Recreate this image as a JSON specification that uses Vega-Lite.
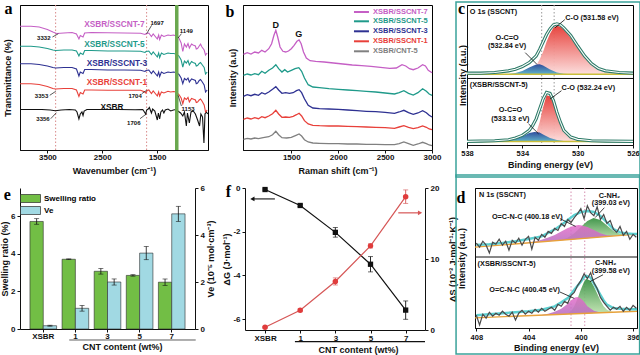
{
"$schema": "https://vega.github.io/schema/vega-lite/v6.json",
"padding": 0,
"background": "white",
"spacing": -6,
"resolve": {"scale": {"color": "independent"}, "legend": {"color": "independent"}},
"config": {
  "font": "Liberation Sans",
  "view": {"stroke": "#000", "strokeWidth": 1},
  "axis": {"grid": false, "labelFont": "Liberation Sans", "labelFontSize": 8, "labelFontWeight": "bold", "labelColor": "#111", "titleFont": "Liberation Sans", "titleFontSize": 9, "titleFontWeight": "bold", "titleColor": "#111", "domainColor": "#111", "tickColor": "#111", "tickSize": 3, "labelPadding": 1, "labelFlush": false, "labelOverlap": false},
  "text": {"font": "Liberation Sans", "fontWeight": "bold"},
  "legend": {"labelFont": "Liberation Sans"}
},
"vconcat": [
{"bounds": "flush", "spacing": 35, "resolve": {"scale": {"color": "independent"}, "legend": {"color": "independent"}}, "hconcat": [
{
  "width": 188, "height": 145,
  "layer": [
    {"data": {"values": [{"x": 3350}, {"x": 1690}]},
     "mark": {"type": "rule", "color": "#d98a8a", "strokeDash": [1.5, 2], "strokeWidth": 1},
     "encoding": {"x": {"field": "x", "type": "quantitative", "scale": {"domain": [4000, 570], "nice": false, "zero": false}, "axis": {"values": [3500, 3000, 2500, 2000, 1500, 1000], "format": "d", "labelOverlap": false, "labelSeparation": -20, "title": "Wavenumber (cm⁻¹)", "labelPadding": 0, "titlePadding": 5}}}},
    {"data": {"values": [
{"s":"XSBR","x":4000,"y":40.5},{"s":"XSBR","x":3800,"y":40.5},{"s":"XSBR","x":3600,"y":40.5},{"s":"XSBR","x":3450,"y":40},{"s":"XSBR","x":3356,"y":39.3},{"s":"XSBR","x":3250,"y":40},{"s":"XSBR","x":3100,"y":40.5},{"s":"XSBR","x":2990,"y":40},{"s":"XSBR","x":2960,"y":38},{"s":"XSBR","x":2925,"y":31},{"s":"XSBR","x":2900,"y":36},{"s":"XSBR","x":2870,"y":38},{"s":"XSBR","x":2850,"y":34.5},{"s":"XSBR","x":2830,"y":39},{"s":"XSBR","x":2780,"y":40.5},{"s":"XSBR","x":2500,"y":40.5},{"s":"XSBR","x":2200,"y":40.5},{"s":"XSBR","x":1900,"y":40.3},{"s":"XSBR","x":1760,"y":40.5},{"s":"XSBR","x":1730,"y":38},{"s":"XSBR","x":1706,"y":36},{"s":"XSBR","x":1690,"y":40},{"s":"XSBR","x":1660,"y":41},{"s":"XSBR","x":1640,"y":42.5},{"s":"XSBR","x":1602,"y":37},{"s":"XSBR","x":1580,"y":41},{"s":"XSBR","x":1540,"y":39},{"s":"XSBR","x":1495,"y":30},{"s":"XSBR","x":1475,"y":37},{"s":"XSBR","x":1452,"y":31},{"s":"XSBR","x":1430,"y":38},{"s":"XSBR","x":1400,"y":40},{"s":"XSBR","x":1375,"y":37},{"s":"XSBR","x":1350,"y":40},{"s":"XSBR","x":1300,"y":41},{"s":"XSBR","x":1250,"y":39},{"s":"XSBR","x":1200,"y":40},{"s":"XSBR","x":1153,"y":40.5},{"s":"XSBR","x":1120,"y":39},{"s":"XSBR","x":1070,"y":37},{"s":"XSBR","x":1030,"y":34},{"s":"XSBR","x":1000,"y":38},{"s":"XSBR","x":965,"y":24},{"s":"XSBR","x":945,"y":37},{"s":"XSBR","x":910,"y":27},{"s":"XSBR","x":880,"y":38},{"s":"XSBR","x":840,"y":39},{"s":"XSBR","x":800,"y":36},{"s":"XSBR","x":760,"y":30},{"s":"XSBR","x":724,"y":24},{"s":"XSBR","x":700,"y":36},{"s":"XSBR","x":670,"y":33},{"s":"XSBR","x":644,"y":7},{"s":"XSBR","x":625,"y":36},{"s":"XSBR","x":600,"y":38},{"s":"XSBR","x":575,"y":36},
{"s":"XSBR/SSCNT-7","x":4000,"y":123.7},{"s":"XSBR/SSCNT-7","x":3800,"y":123.7},{"s":"XSBR/SSCNT-7","x":3650,"y":123},{"s":"XSBR/SSCNT-7","x":3500,"y":120.5},{"s":"XSBR/SSCNT-7","x":3400,"y":118},{"s":"XSBR/SSCNT-7","x":3332,"y":116.5},{"s":"XSBR/SSCNT-7","x":3200,"y":117},{"s":"XSBR/SSCNT-7","x":3050,"y":117.5},{"s":"XSBR/SSCNT-7","x":2970,"y":116},{"s":"XSBR/SSCNT-7","x":2925,"y":111},{"s":"XSBR/SSCNT-7","x":2900,"y":114.5},{"s":"XSBR/SSCNT-7","x":2850,"y":113},{"s":"XSBR/SSCNT-7","x":2820,"y":117},{"s":"XSBR/SSCNT-7","x":2700,"y":117.5},{"s":"XSBR/SSCNT-7","x":2400,"y":117.2},{"s":"XSBR/SSCNT-7","x":2100,"y":117},{"s":"XSBR/SSCNT-7","x":1800,"y":116.7},{"s":"XSBR/SSCNT-7","x":1720,"y":115.5},{"s":"XSBR/SSCNT-7","x":1697,"y":116.5},{"s":"XSBR/SSCNT-7","x":1650,"y":117},{"s":"XSBR/SSCNT-7","x":1602,"y":113.5},{"s":"XSBR/SSCNT-7","x":1570,"y":116},{"s":"XSBR/SSCNT-7","x":1495,"y":111},{"s":"XSBR/SSCNT-7","x":1470,"y":115},{"s":"XSBR/SSCNT-7","x":1452,"y":110.5},{"s":"XSBR/SSCNT-7","x":1420,"y":115},{"s":"XSBR/SSCNT-7","x":1375,"y":113.5},{"s":"XSBR/SSCNT-7","x":1300,"y":115},{"s":"XSBR/SSCNT-7","x":1250,"y":114.5},{"s":"XSBR/SSCNT-7","x":1200,"y":115},{"s":"XSBR/SSCNT-7","x":1149,"y":114},{"s":"XSBR/SSCNT-7","x":1100,"y":112},{"s":"XSBR/SSCNT-7","x":1060,"y":107},{"s":"XSBR/SSCNT-7","x":1030,"y":98.5},{"s":"XSBR/SSCNT-7","x":1000,"y":106},{"s":"XSBR/SSCNT-7","x":965,"y":103},{"s":"XSBR/SSCNT-7","x":935,"y":106.5},{"s":"XSBR/SSCNT-7","x":910,"y":102},{"s":"XSBR/SSCNT-7","x":870,"y":106},{"s":"XSBR/SSCNT-7","x":843,"y":105},{"s":"XSBR/SSCNT-7","x":800,"y":104},{"s":"XSBR/SSCNT-7","x":784,"y":101},{"s":"XSBR/SSCNT-7","x":760,"y":101.5},{"s":"XSBR/SSCNT-7","x":730,"y":104},{"s":"XSBR/SSCNT-7","x":706,"y":106},{"s":"XSBR/SSCNT-7","x":680,"y":103},{"s":"XSBR/SSCNT-7","x":640,"y":100},{"s":"XSBR/SSCNT-7","x":615,"y":95},{"s":"XSBR/SSCNT-7","x":600,"y":96},{"s":"XSBR/SSCNT-7","x":585,"y":97},
{"s":"XSBR/SSCNT-5","x":4000,"y":103.7},{"s":"XSBR/SSCNT-5","x":3800,"y":103.7},{"s":"XSBR/SSCNT-5","x":3650,"y":103},{"s":"XSBR/SSCNT-5","x":3500,"y":101.5},{"s":"XSBR/SSCNT-5","x":3400,"y":100},{"s":"XSBR/SSCNT-5","x":3350,"y":99.5},{"s":"XSBR/SSCNT-5","x":3200,"y":100},{"s":"XSBR/SSCNT-5","x":3050,"y":100},{"s":"XSBR/SSCNT-5","x":2970,"y":99},{"s":"XSBR/SSCNT-5","x":2925,"y":94},{"s":"XSBR/SSCNT-5","x":2900,"y":97},{"s":"XSBR/SSCNT-5","x":2850,"y":95.5},{"s":"XSBR/SSCNT-5","x":2820,"y":99.5},{"s":"XSBR/SSCNT-5","x":2700,"y":99.5},{"s":"XSBR/SSCNT-5","x":2400,"y":99},{"s":"XSBR/SSCNT-5","x":2100,"y":99},{"s":"XSBR/SSCNT-5","x":1800,"y":98.7},{"s":"XSBR/SSCNT-5","x":1720,"y":97.5},{"s":"XSBR/SSCNT-5","x":1700,"y":98.5},{"s":"XSBR/SSCNT-5","x":1650,"y":99},{"s":"XSBR/SSCNT-5","x":1602,"y":95.5},{"s":"XSBR/SSCNT-5","x":1570,"y":98},{"s":"XSBR/SSCNT-5","x":1495,"y":93},{"s":"XSBR/SSCNT-5","x":1470,"y":97},{"s":"XSBR/SSCNT-5","x":1452,"y":92.5},{"s":"XSBR/SSCNT-5","x":1420,"y":97},{"s":"XSBR/SSCNT-5","x":1375,"y":95.5},{"s":"XSBR/SSCNT-5","x":1300,"y":97},{"s":"XSBR/SSCNT-5","x":1250,"y":96.5},{"s":"XSBR/SSCNT-5","x":1200,"y":96.5},{"s":"XSBR/SSCNT-5","x":1150,"y":96},{"s":"XSBR/SSCNT-5","x":1100,"y":94},{"s":"XSBR/SSCNT-5","x":1060,"y":90},{"s":"XSBR/SSCNT-5","x":1030,"y":83},{"s":"XSBR/SSCNT-5","x":1000,"y":89},{"s":"XSBR/SSCNT-5","x":965,"y":87},{"s":"XSBR/SSCNT-5","x":935,"y":89.5},{"s":"XSBR/SSCNT-5","x":910,"y":85},{"s":"XSBR/SSCNT-5","x":870,"y":88.5},{"s":"XSBR/SSCNT-5","x":843,"y":87.5},{"s":"XSBR/SSCNT-5","x":800,"y":86.5},{"s":"XSBR/SSCNT-5","x":784,"y":84},{"s":"XSBR/SSCNT-5","x":760,"y":84.5},{"s":"XSBR/SSCNT-5","x":730,"y":86.5},{"s":"XSBR/SSCNT-5","x":706,"y":87.5},{"s":"XSBR/SSCNT-5","x":680,"y":85.5},{"s":"XSBR/SSCNT-5","x":640,"y":82.5},{"s":"XSBR/SSCNT-5","x":615,"y":76},{"s":"XSBR/SSCNT-5","x":600,"y":77},{"s":"XSBR/SSCNT-5","x":585,"y":78},
{"s":"XSBR/SSCNT-3","x":4000,"y":86.3},{"s":"XSBR/SSCNT-3","x":3800,"y":86.3},{"s":"XSBR/SSCNT-3","x":3650,"y":85.5},{"s":"XSBR/SSCNT-3","x":3500,"y":84},{"s":"XSBR/SSCNT-3","x":3400,"y":82.5},{"s":"XSBR/SSCNT-3","x":3350,"y":82},{"s":"XSBR/SSCNT-3","x":3200,"y":82.5},{"s":"XSBR/SSCNT-3","x":3050,"y":82.5},{"s":"XSBR/SSCNT-3","x":2970,"y":81},{"s":"XSBR/SSCNT-3","x":2925,"y":74},{"s":"XSBR/SSCNT-3","x":2900,"y":78},{"s":"XSBR/SSCNT-3","x":2850,"y":76.5},{"s":"XSBR/SSCNT-3","x":2820,"y":80.5},{"s":"XSBR/SSCNT-3","x":2700,"y":80.5},{"s":"XSBR/SSCNT-3","x":2400,"y":80},{"s":"XSBR/SSCNT-3","x":2100,"y":80},{"s":"XSBR/SSCNT-3","x":1800,"y":79.7},{"s":"XSBR/SSCNT-3","x":1720,"y":78.5},{"s":"XSBR/SSCNT-3","x":1700,"y":79.5},{"s":"XSBR/SSCNT-3","x":1650,"y":80},{"s":"XSBR/SSCNT-3","x":1602,"y":76.5},{"s":"XSBR/SSCNT-3","x":1570,"y":79},{"s":"XSBR/SSCNT-3","x":1495,"y":74},{"s":"XSBR/SSCNT-3","x":1470,"y":78},{"s":"XSBR/SSCNT-3","x":1452,"y":73.5},{"s":"XSBR/SSCNT-3","x":1420,"y":78},{"s":"XSBR/SSCNT-3","x":1375,"y":76.5},{"s":"XSBR/SSCNT-3","x":1300,"y":78},{"s":"XSBR/SSCNT-3","x":1250,"y":77.5},{"s":"XSBR/SSCNT-3","x":1200,"y":78},{"s":"XSBR/SSCNT-3","x":1150,"y":77.5},{"s":"XSBR/SSCNT-3","x":1100,"y":75.5},{"s":"XSBR/SSCNT-3","x":1060,"y":72},{"s":"XSBR/SSCNT-3","x":1030,"y":66.3},{"s":"XSBR/SSCNT-3","x":1000,"y":71.5},{"s":"XSBR/SSCNT-3","x":965,"y":70},{"s":"XSBR/SSCNT-3","x":935,"y":72},{"s":"XSBR/SSCNT-3","x":910,"y":68},{"s":"XSBR/SSCNT-3","x":870,"y":71},{"s":"XSBR/SSCNT-3","x":843,"y":70.5},{"s":"XSBR/SSCNT-3","x":800,"y":69.5},{"s":"XSBR/SSCNT-3","x":784,"y":66.3},{"s":"XSBR/SSCNT-3","x":760,"y":67},{"s":"XSBR/SSCNT-3","x":730,"y":69.5},{"s":"XSBR/SSCNT-3","x":706,"y":70.5},{"s":"XSBR/SSCNT-3","x":680,"y":68.5},{"s":"XSBR/SSCNT-3","x":640,"y":65},{"s":"XSBR/SSCNT-3","x":615,"y":58},{"s":"XSBR/SSCNT-3","x":600,"y":59},{"s":"XSBR/SSCNT-3","x":585,"y":60},
{"s":"XSBR/SSCNT-1","x":4000,"y":66.3},{"s":"XSBR/SSCNT-1","x":3800,"y":66.3},{"s":"XSBR/SSCNT-1","x":3650,"y":65.5},{"s":"XSBR/SSCNT-1","x":3500,"y":63.5},{"s":"XSBR/SSCNT-1","x":3400,"y":61.5},{"s":"XSBR/SSCNT-1","x":3353,"y":61},{"s":"XSBR/SSCNT-1","x":3200,"y":61.5},{"s":"XSBR/SSCNT-1","x":3050,"y":61.5},{"s":"XSBR/SSCNT-1","x":2970,"y":60},{"s":"XSBR/SSCNT-1","x":2925,"y":53.5},{"s":"XSBR/SSCNT-1","x":2900,"y":57.5},{"s":"XSBR/SSCNT-1","x":2850,"y":56},{"s":"XSBR/SSCNT-1","x":2820,"y":60},{"s":"XSBR/SSCNT-1","x":2700,"y":60},{"s":"XSBR/SSCNT-1","x":2400,"y":59.7},{"s":"XSBR/SSCNT-1","x":2100,"y":59.7},{"s":"XSBR/SSCNT-1","x":1800,"y":59.7},{"s":"XSBR/SSCNT-1","x":1720,"y":58},{"s":"XSBR/SSCNT-1","x":1704,"y":57},{"s":"XSBR/SSCNT-1","x":1680,"y":59.5},{"s":"XSBR/SSCNT-1","x":1650,"y":60},{"s":"XSBR/SSCNT-1","x":1602,"y":56.5},{"s":"XSBR/SSCNT-1","x":1570,"y":59},{"s":"XSBR/SSCNT-1","x":1495,"y":54},{"s":"XSBR/SSCNT-1","x":1470,"y":58},{"s":"XSBR/SSCNT-1","x":1452,"y":54},{"s":"XSBR/SSCNT-1","x":1420,"y":58},{"s":"XSBR/SSCNT-1","x":1375,"y":57},{"s":"XSBR/SSCNT-1","x":1300,"y":58.7},{"s":"XSBR/SSCNT-1","x":1250,"y":58},{"s":"XSBR/SSCNT-1","x":1200,"y":58.5},{"s":"XSBR/SSCNT-1","x":1153,"y":58},{"s":"XSBR/SSCNT-1","x":1100,"y":55.5},{"s":"XSBR/SSCNT-1","x":1060,"y":52},{"s":"XSBR/SSCNT-1","x":1030,"y":46.3},{"s":"XSBR/SSCNT-1","x":1000,"y":52},{"s":"XSBR/SSCNT-1","x":965,"y":50.5},{"s":"XSBR/SSCNT-1","x":935,"y":52.5},{"s":"XSBR/SSCNT-1","x":910,"y":48},{"s":"XSBR/SSCNT-1","x":870,"y":51.5},{"s":"XSBR/SSCNT-1","x":843,"y":51},{"s":"XSBR/SSCNT-1","x":800,"y":50},{"s":"XSBR/SSCNT-1","x":784,"y":47.5},{"s":"XSBR/SSCNT-1","x":760,"y":48},{"s":"XSBR/SSCNT-1","x":730,"y":50},{"s":"XSBR/SSCNT-1","x":706,"y":51},{"s":"XSBR/SSCNT-1","x":680,"y":49},{"s":"XSBR/SSCNT-1","x":640,"y":45},{"s":"XSBR/SSCNT-1","x":615,"y":38},{"s":"XSBR/SSCNT-1","x":600,"y":39},{"s":"XSBR/SSCNT-1","x":585,"y":40}
     ]},
     "mark": {"type": "line", "strokeWidth": 1.1},
     "encoding": {"x": {"field": "x", "type": "quantitative"},
       "y": {"field": "y", "type": "quantitative", "scale": {"domain": [0, 145], "nice": false, "zero": false}, "axis": {"labels": false, "ticks": false, "title": "Transmittance (%)", "titlePadding": 8}},
       "color": {"field": "s", "type": "nominal", "scale": {"domain": ["XSBR", "XSBR/SSCNT-1", "XSBR/SSCNT-3", "XSBR/SSCNT-5", "XSBR/SSCNT-7"], "range": ["#111111", "#e8403a", "#2e3192", "#1f9a8a", "#c55fc5"]}, "legend": null}}},
    {"data": {"values": [{}]}, "mark": {"type": "rule", "color": "#6aa84f", "strokeWidth": 3.5}, "encoding": {"x": {"datum": 1140}}},
    {"data": {"values": [
       {"x":3408,"y":113,"x2":3300,"y2":116.3},{"x":3457,"y":54.7,"x2":3348,"y2":58.7},{"x":3439,"y":31.3,"x2":3336,"y2":37.3},
       {"x":1598,"y":124.7,"x2":1690,"y2":116.3},{"x":1055,"y":116.3,"x2":1115,"y2":112},{"x":1779,"y":56.3,"x2":1689,"y2":59.7},{"x":1055,"y":44,"x2":1115,"y2":54.7},{"x":1810,"y":31.3,"x2":1689,"y2":36.3}]},
     "mark": {"type": "rule", "color": "#111", "strokeWidth": 0.7},
     "encoding": {"x": {"field": "x", "type": "quantitative"}, "x2": {"field": "x2"}, "y": {"field": "y", "type": "quantitative"}, "y2": {"field": "y2"}}},
    {"data": {"values": [
       {"label":"XSBR/SSCNT-7","s":"XSBR/SSCNT-7","x":2277,"y":125.3},{"label":"XSBR/SSCNT-5","s":"XSBR/SSCNT-5","x":2277,"y":104.7},{"label":"XSBR/SSCNT-3","s":"XSBR/SSCNT-3","x":2232,"y":86.3},{"label":"XSBR/SSCNT-1","s":"XSBR/SSCNT-1","x":2232,"y":67},{"label":"XSBR","s":"XSBR","x":2322,"y":42}]},
     "mark": {"type": "text", "fontSize": 8.3, "fontWeight": "bold"},
     "encoding": {"x": {"field": "x", "type": "quantitative"}, "y": {"field": "y", "type": "quantitative"}, "text": {"field": "label"},
       "color": {"field": "s", "type": "nominal", "scale": {"domain": ["XSBR", "XSBR/SSCNT-1", "XSBR/SSCNT-3", "XSBR/SSCNT-5", "XSBR/SSCNT-7"], "range": ["#111111", "#e8403a", "#2e3192", "#1f9a8a", "#c55fc5"]}, "legend": null}}},
    {"data": {"values": [
       {"label":"3332","x":3566,"y":112},{"label":"3353","x":3607,"y":53.7},{"label":"3356","x":3580,"y":30.7},{"label":"1697","x":1499,"y":127.3},{"label":"1149","x":965,"y":118.7},{"label":"1704","x":1900,"y":54},{"label":"1153","x":934,"y":40.7},{"label":"1706","x":1924,"y":27.3}]},
     "mark": {"type": "text", "fontSize": 6, "fontWeight": "bold", "color": "#111"},
     "encoding": {"x": {"field": "x", "type": "quantitative"}, "y": {"field": "y", "type": "quantitative"}, "text": {"field": "label"}}},
    {"data": {"values": [{"label": "a", "x": 4210, "y": 136}]},
     "mark": {"type": "text", "font": "Liberation Serif", "fontSize": 16, "fontWeight": "bold", "baseline": "alphabetic", "color": "#000"},
     "encoding": {"x": {"field": "x", "type": "quantitative"}, "y": {"field": "y", "type": "quantitative"}, "text": {"field": "label"}}}
  ]
},
{
  "width": 189, "height": 145,
  "layer": [
    {"data": {"values": [
{"s":"XSBR/SSCNT-7","x":990,"y":95.7},{"s":"XSBR/SSCNT-7","x":1030,"y":97.3},{"s":"XSBR/SSCNT-7","x":1070,"y":96},{"s":"XSBR/SSCNT-7","x":1110,"y":98},{"s":"XSBR/SSCNT-7","x":1150,"y":97},{"s":"XSBR/SSCNT-7","x":1185,"y":99.7},{"s":"XSBR/SSCNT-7","x":1220,"y":98},{"s":"XSBR/SSCNT-7","x":1260,"y":101.3},{"s":"XSBR/SSCNT-7","x":1290,"y":106.3},{"s":"XSBR/SSCNT-7","x":1315,"y":114.7},{"s":"XSBR/SSCNT-7","x":1335,"y":119.7},{"s":"XSBR/SSCNT-7","x":1355,"y":113},{"s":"XSBR/SSCNT-7","x":1380,"y":103},{"s":"XSBR/SSCNT-7","x":1410,"y":98.7},{"s":"XSBR/SSCNT-7","x":1440,"y":98},{"s":"XSBR/SSCNT-7","x":1470,"y":99},{"s":"XSBR/SSCNT-7","x":1500,"y":101.3},{"s":"XSBR/SSCNT-7","x":1530,"y":104.7},{"s":"XSBR/SSCNT-7","x":1560,"y":108.7},{"s":"XSBR/SSCNT-7","x":1583,"y":110},{"s":"XSBR/SSCNT-7","x":1605,"y":106.3},{"s":"XSBR/SSCNT-7","x":1630,"y":98},{"s":"XSBR/SSCNT-7","x":1660,"y":92},{"s":"XSBR/SSCNT-7","x":1700,"y":89.3},{"s":"XSBR/SSCNT-7","x":1760,"y":88.7},{"s":"XSBR/SSCNT-7","x":1850,"y":88},{"s":"XSBR/SSCNT-7","x":1950,"y":87},{"s":"XSBR/SSCNT-7","x":2050,"y":86},{"s":"XSBR/SSCNT-7","x":2150,"y":85},{"s":"XSBR/SSCNT-7","x":2250,"y":84.3},{"s":"XSBR/SSCNT-7","x":2350,"y":83.7},{"s":"XSBR/SSCNT-7","x":2450,"y":82.7},{"s":"XSBR/SSCNT-7","x":2550,"y":81.7},{"s":"XSBR/SSCNT-7","x":2620,"y":82},{"s":"XSBR/SSCNT-7","x":2680,"y":85.3},{"s":"XSBR/SSCNT-7","x":2720,"y":84},{"s":"XSBR/SSCNT-7","x":2760,"y":81.3},{"s":"XSBR/SSCNT-7","x":2800,"y":80.3},{"s":"XSBR/SSCNT-7","x":2850,"y":82},{"s":"XSBR/SSCNT-7","x":2900,"y":85.3},{"s":"XSBR/SSCNT-7","x":2930,"y":84},{"s":"XSBR/SSCNT-7","x":2960,"y":79.7},{"s":"XSBR/SSCNT-7","x":3000,"y":77.3},
{"s":"XSBR/SSCNT-5","x":990,"y":74.7},{"s":"XSBR/SSCNT-5","x":1030,"y":76},{"s":"XSBR/SSCNT-5","x":1070,"y":75},{"s":"XSBR/SSCNT-5","x":1110,"y":76.3},{"s":"XSBR/SSCNT-5","x":1150,"y":75.3},{"s":"XSBR/SSCNT-5","x":1185,"y":78.7},{"s":"XSBR/SSCNT-5","x":1220,"y":76.7},{"s":"XSBR/SSCNT-5","x":1260,"y":79.7},{"s":"XSBR/SSCNT-5","x":1300,"y":82},{"s":"XSBR/SSCNT-5","x":1335,"y":85.3},{"s":"XSBR/SSCNT-5","x":1365,"y":81.3},{"s":"XSBR/SSCNT-5","x":1400,"y":78},{"s":"XSBR/SSCNT-5","x":1430,"y":80.3},{"s":"XSBR/SSCNT-5","x":1460,"y":78},{"s":"XSBR/SSCNT-5","x":1500,"y":79.7},{"s":"XSBR/SSCNT-5","x":1540,"y":81.3},{"s":"XSBR/SSCNT-5","x":1580,"y":82.3},{"s":"XSBR/SSCNT-5","x":1610,"y":78.7},{"s":"XSBR/SSCNT-5","x":1640,"y":72},{"s":"XSBR/SSCNT-5","x":1680,"y":65.3},{"s":"XSBR/SSCNT-5","x":1730,"y":63},{"s":"XSBR/SSCNT-5","x":1800,"y":62.3},{"s":"XSBR/SSCNT-5","x":1900,"y":61.3},{"s":"XSBR/SSCNT-5","x":2000,"y":60.7},{"s":"XSBR/SSCNT-5","x":2100,"y":60},{"s":"XSBR/SSCNT-5","x":2200,"y":59.3},{"s":"XSBR/SSCNT-5","x":2300,"y":58.7},{"s":"XSBR/SSCNT-5","x":2400,"y":58},{"s":"XSBR/SSCNT-5","x":2500,"y":57},{"s":"XSBR/SSCNT-5","x":2600,"y":56},{"s":"XSBR/SSCNT-5","x":2650,"y":57.3},{"s":"XSBR/SSCNT-5","x":2700,"y":59.3},{"s":"XSBR/SSCNT-5","x":2750,"y":56.7},{"s":"XSBR/SSCNT-5","x":2800,"y":55},{"s":"XSBR/SSCNT-5","x":2850,"y":57.3},{"s":"XSBR/SSCNT-5","x":2900,"y":61.3},{"s":"XSBR/SSCNT-5","x":2940,"y":58.7},{"s":"XSBR/SSCNT-5","x":2970,"y":56},{"s":"XSBR/SSCNT-5","x":3000,"y":54.7},
{"s":"XSBR/SSCNT-3","x":990,"y":53.7},{"s":"XSBR/SSCNT-3","x":1030,"y":55.3},{"s":"XSBR/SSCNT-3","x":1070,"y":54.3},{"s":"XSBR/SSCNT-3","x":1110,"y":55.7},{"s":"XSBR/SSCNT-3","x":1150,"y":54.7},{"s":"XSBR/SSCNT-3","x":1185,"y":57.3},{"s":"XSBR/SSCNT-3","x":1220,"y":56},{"s":"XSBR/SSCNT-3","x":1260,"y":58},{"s":"XSBR/SSCNT-3","x":1300,"y":60.7},{"s":"XSBR/SSCNT-3","x":1335,"y":63.3},{"s":"XSBR/SSCNT-3","x":1365,"y":60},{"s":"XSBR/SSCNT-3","x":1400,"y":56.7},{"s":"XSBR/SSCNT-3","x":1440,"y":57.3},{"s":"XSBR/SSCNT-3","x":1480,"y":56.7},{"s":"XSBR/SSCNT-3","x":1520,"y":57.3},{"s":"XSBR/SSCNT-3","x":1555,"y":59.3},{"s":"XSBR/SSCNT-3","x":1583,"y":60.3},{"s":"XSBR/SSCNT-3","x":1610,"y":57.3},{"s":"XSBR/SSCNT-3","x":1640,"y":51.3},{"s":"XSBR/SSCNT-3","x":1680,"y":44.7},{"s":"XSBR/SSCNT-3","x":1730,"y":42},{"s":"XSBR/SSCNT-3","x":1800,"y":41.3},{"s":"XSBR/SSCNT-3","x":1900,"y":41},{"s":"XSBR/SSCNT-3","x":2000,"y":40.7},{"s":"XSBR/SSCNT-3","x":2100,"y":40},{"s":"XSBR/SSCNT-3","x":2200,"y":39.3},{"s":"XSBR/SSCNT-3","x":2300,"y":38.7},{"s":"XSBR/SSCNT-3","x":2400,"y":38.3},{"s":"XSBR/SSCNT-3","x":2500,"y":37.7},{"s":"XSBR/SSCNT-3","x":2600,"y":36.7},{"s":"XSBR/SSCNT-3","x":2650,"y":38},{"s":"XSBR/SSCNT-3","x":2700,"y":39.7},{"s":"XSBR/SSCNT-3","x":2750,"y":37.3},{"s":"XSBR/SSCNT-3","x":2800,"y":35.7},{"s":"XSBR/SSCNT-3","x":2850,"y":37},{"s":"XSBR/SSCNT-3","x":2900,"y":39.3},{"s":"XSBR/SSCNT-3","x":2940,"y":37.3},{"s":"XSBR/SSCNT-3","x":2970,"y":34.7},{"s":"XSBR/SSCNT-3","x":3000,"y":33},
{"s":"XSBR/SSCNT-1","x":990,"y":30.7},{"s":"XSBR/SSCNT-1","x":1030,"y":32},{"s":"XSBR/SSCNT-1","x":1070,"y":31},{"s":"XSBR/SSCNT-1","x":1110,"y":32.3},{"s":"XSBR/SSCNT-1","x":1150,"y":31.3},{"s":"XSBR/SSCNT-1","x":1185,"y":33.3},{"s":"XSBR/SSCNT-1","x":1220,"y":32.3},{"s":"XSBR/SSCNT-1","x":1260,"y":34},{"s":"XSBR/SSCNT-1","x":1300,"y":36.3},{"s":"XSBR/SSCNT-1","x":1335,"y":39.7},{"s":"XSBR/SSCNT-1","x":1365,"y":36},{"s":"XSBR/SSCNT-1","x":1400,"y":32.7},{"s":"XSBR/SSCNT-1","x":1440,"y":33},{"s":"XSBR/SSCNT-1","x":1480,"y":32.7},{"s":"XSBR/SSCNT-1","x":1520,"y":33.7},{"s":"XSBR/SSCNT-1","x":1555,"y":35.3},{"s":"XSBR/SSCNT-1","x":1583,"y":36.7},{"s":"XSBR/SSCNT-1","x":1610,"y":34},{"s":"XSBR/SSCNT-1","x":1640,"y":29.3},{"s":"XSBR/SSCNT-1","x":1680,"y":26},{"s":"XSBR/SSCNT-1","x":1730,"y":24.7},{"s":"XSBR/SSCNT-1","x":1800,"y":24.3},{"s":"XSBR/SSCNT-1","x":1900,"y":24},{"s":"XSBR/SSCNT-1","x":2000,"y":24},{"s":"XSBR/SSCNT-1","x":2100,"y":23.7},{"s":"XSBR/SSCNT-1","x":2200,"y":23.3},{"s":"XSBR/SSCNT-1","x":2300,"y":23},{"s":"XSBR/SSCNT-1","x":2400,"y":22.7},{"s":"XSBR/SSCNT-1","x":2500,"y":22.3},{"s":"XSBR/SSCNT-1","x":2600,"y":21.7},{"s":"XSBR/SSCNT-1","x":2650,"y":23},{"s":"XSBR/SSCNT-1","x":2700,"y":24.3},{"s":"XSBR/SSCNT-1","x":2750,"y":22.7},{"s":"XSBR/SSCNT-1","x":2800,"y":21.3},{"s":"XSBR/SSCNT-1","x":2850,"y":22.3},{"s":"XSBR/SSCNT-1","x":2900,"y":24},{"s":"XSBR/SSCNT-1","x":2940,"y":22.7},{"s":"XSBR/SSCNT-1","x":2970,"y":21},{"s":"XSBR/SSCNT-1","x":3000,"y":20.3},
{"s":"XSBR/CNT-5","x":990,"y":10.7},{"s":"XSBR/CNT-5","x":1030,"y":11.7},{"s":"XSBR/CNT-5","x":1070,"y":11},{"s":"XSBR/CNT-5","x":1110,"y":12},{"s":"XSBR/CNT-5","x":1150,"y":11.3},{"s":"XSBR/CNT-5","x":1200,"y":12.3},{"s":"XSBR/CNT-5","x":1260,"y":13.3},{"s":"XSBR/CNT-5","x":1300,"y":15.3},{"s":"XSBR/CNT-5","x":1335,"y":18.7},{"s":"XSBR/CNT-5","x":1365,"y":15.3},{"s":"XSBR/CNT-5","x":1400,"y":12.3},{"s":"XSBR/CNT-5","x":1450,"y":12},{"s":"XSBR/CNT-5","x":1500,"y":12.7},{"s":"XSBR/CNT-5","x":1550,"y":14.7},{"s":"XSBR/CNT-5","x":1583,"y":16},{"s":"XSBR/CNT-5","x":1610,"y":14},{"s":"XSBR/CNT-5","x":1640,"y":10.3},{"s":"XSBR/CNT-5","x":1680,"y":8},{"s":"XSBR/CNT-5","x":1730,"y":7},{"s":"XSBR/CNT-5","x":1800,"y":6.7},{"s":"XSBR/CNT-5","x":1900,"y":6.3},{"s":"XSBR/CNT-5","x":2000,"y":6.3},{"s":"XSBR/CNT-5","x":2100,"y":6},{"s":"XSBR/CNT-5","x":2200,"y":6},{"s":"XSBR/CNT-5","x":2300,"y":5.7},{"s":"XSBR/CNT-5","x":2400,"y":5.7},{"s":"XSBR/CNT-5","x":2500,"y":5.3},{"s":"XSBR/CNT-5","x":2600,"y":5.3},{"s":"XSBR/CNT-5","x":2650,"y":6.3},{"s":"XSBR/CNT-5","x":2700,"y":8},{"s":"XSBR/CNT-5","x":2750,"y":6.3},{"s":"XSBR/CNT-5","x":2800,"y":4.7},{"s":"XSBR/CNT-5","x":2850,"y":6},{"s":"XSBR/CNT-5","x":2900,"y":7.7},{"s":"XSBR/CNT-5","x":2940,"y":6.3},{"s":"XSBR/CNT-5","x":2970,"y":5},{"s":"XSBR/CNT-5","x":3000,"y":4.3}
     ]},
     "mark": {"type": "line", "strokeWidth": 1.3},
     "encoding": {
       "x": {"field": "x", "type": "quantitative", "scale": {"domain": [985, 3000], "nice": false, "zero": false}, "axis": {"values": [1500, 2000, 2500, 3000], "format": "d", "labelOverlap": false, "title": "Raman shift (cm⁻¹)", "labelPadding": 0, "titlePadding": 5}},
       "y": {"field": "y", "type": "quantitative", "scale": {"domain": [0, 145], "nice": false, "zero": false}, "axis": {"labels": false, "ticks": false, "title": "Intensity (a.u)", "titlePadding": 6}},
       "color": {"field": "s", "type": "nominal", "scale": {"domain": ["XSBR/SSCNT-7", "XSBR/SSCNT-5", "XSBR/SSCNT-3", "XSBR/SSCNT-1", "XSBR/CNT-5"], "range": ["#c55fc5", "#1f9a8a", "#2e3192", "#e8403a", "#808080"]}, "legend": null}}},
    {"data": {"values": [
       {"s":"XSBR/SSCNT-7","x":2168,"x2":2328,"y":138},{"s":"XSBR/SSCNT-5","x":2168,"x2":2328,"y":128.7},{"s":"XSBR/SSCNT-3","x":2168,"x2":2328,"y":118.7},{"s":"XSBR/SSCNT-1","x":2168,"x2":2328,"y":108.7},{"s":"XSBR/CNT-5","x":2168,"x2":2328,"y":98.7}]},
     "layer": [
       {"mark": {"type": "rule", "strokeWidth": 2},
        "encoding": {"x": {"field": "x", "type": "quantitative"}, "x2": {"field": "x2"}, "y": {"field": "y", "type": "quantitative"},
          "color": {"field": "s", "type": "nominal", "scale": {"domain": ["XSBR/SSCNT-7", "XSBR/SSCNT-5", "XSBR/SSCNT-3", "XSBR/SSCNT-1", "XSBR/CNT-5"], "range": ["#c55fc5", "#1f9a8a", "#2e3192", "#e8403a", "#808080"]}, "legend": null}}},
       {"mark": {"type": "text", "fontSize": 7.5, "fontWeight": "bold", "align": "left", "dx": 4},
        "encoding": {"x": {"field": "x2", "type": "quantitative"}, "y": {"field": "y", "type": "quantitative"}, "text": {"field": "s"},
          "color": {"field": "s", "type": "nominal", "scale": {"domain": ["XSBR/SSCNT-7", "XSBR/SSCNT-5", "XSBR/SSCNT-3", "XSBR/SSCNT-1", "XSBR/CNT-5"], "range": ["#c55fc5", "#1f9a8a", "#2e3192", "#e8403a", "#808080"]}, "legend": null}}}
     ]},
    {"data": {"values": [{"label": "D", "x": 1334, "y": 124.7}, {"label": "G", "x": 1580, "y": 115.7}]},
     "mark": {"type": "text", "fontSize": 9, "fontWeight": "bold", "color": "#111"},
     "encoding": {"x": {"field": "x", "type": "quantitative"}, "y": {"field": "y", "type": "quantitative"}, "text": {"field": "label"}}},
    {"data": {"values": [{"label": "b", "x": 846, "y": 133}]},
     "mark": {"type": "text", "font": "Liberation Serif", "fontSize": 16, "fontWeight": "bold", "baseline": "alphabetic", "color": "#000"},
     "encoding": {"x": {"field": "x", "type": "quantitative"}, "y": {"field": "y", "type": "quantitative"}, "text": {"field": "label"}}}
  ]
},
{
  "width": 166, "height": 140,
  "layer": [
    {"data": {"values": [{"x": 532.6}, {"x": 531.7}]},
     "mark": {"type": "rule", "color": "#999", "strokeDash": [1.5, 2], "strokeWidth": 1},
     "encoding": {"x": {"field": "x", "type": "quantitative", "scale": {"domain": [538, 526], "nice": false, "zero": false}, "axis": {"values": [538, 536, 534, 532, 530, 528, 526], "labelOverlap": false, "labelSeparation": -20, "title": "Binding energy (eV)", "labelFontSize": 7.5, "labelPadding": 1, "titlePadding": 4}}}},
    {"data": {"values": [
{"p":"u","x":538,"y":71.3,"b":71.3},{"p":"u","x":535,"y":71.3,"b":71.3},{"p":"u","x":534,"y":72,"b":71.3},{"p":"u","x":533.5,"y":74,"b":71.3},{"p":"u","x":533,"y":80,"b":71.3},{"p":"u","x":532.75,"y":86,"b":71.3},{"p":"u","x":532.5,"y":94,"b":71.3},{"p":"u","x":532.25,"y":104,"b":71.3},{"p":"u","x":532,"y":112,"b":71.3},{"p":"u","x":531.75,"y":118,"b":71.3},{"p":"u","x":531.5,"y":120,"b":71.3},{"p":"u","x":531.25,"y":119,"b":71.3},{"p":"u","x":531,"y":116,"b":71.3},{"p":"u","x":530.5,"y":108,"b":71.3},{"p":"u","x":530,"y":98,"b":71.3},{"p":"u","x":529.5,"y":88.5,"b":71.3},{"p":"u","x":529,"y":81,"b":71.3},{"p":"u","x":528.5,"y":76,"b":71.3},{"p":"u","x":528,"y":73.5,"b":71.3},{"p":"u","x":527,"y":72,"b":71.3},{"p":"u","x":526,"y":71.3,"b":71.3},
{"p":"l","x":538,"y":3.5,"b":3.5},{"p":"l","x":534,"y":4.5,"b":3.5},{"p":"l","x":533.5,"y":6,"b":3.5},{"p":"l","x":533,"y":12,"b":3.5},{"p":"l","x":532.75,"y":23,"b":3.5},{"p":"l","x":532.5,"y":38,"b":3.5},{"p":"l","x":532.25,"y":50,"b":3.5},{"p":"l","x":532,"y":49,"b":3.5},{"p":"l","x":531.75,"y":42,"b":3.5},{"p":"l","x":531.5,"y":31.5,"b":3.5},{"p":"l","x":531.25,"y":21,"b":3.5},{"p":"l","x":531,"y":13,"b":3.5},{"p":"l","x":530.5,"y":6.5,"b":3.5},{"p":"l","x":530,"y":4.5,"b":3.5},{"p":"l","x":529,"y":3.7,"b":3.5},{"p":"l","x":526,"y":3.5,"b":3.5}
     ]},
     "mark": {"type": "area", "opacity": 0.95, "color": {"gradient": "linear", "x1": 0, "y1": 0, "x2": 0, "y2": 1, "stops": [{"offset": 0, "color": "#e63b35"}, {"offset": 1, "color": "#fcdcdb"}]}},
     "encoding": {"x": {"field": "x", "type": "quantitative"}, "y": {"field": "y", "type": "quantitative", "scale": {"domain": [0, 141], "nice": false, "zero": false}, "axis": {"labels": false, "ticks": false, "title": "Intensity (a.u.)", "titlePadding": 0}}, "y2": {"field": "b"}, "detail": {"field": "p"}}},
    {"data": {"values": [
{"p":"u","x":536,"y":71.3,"b":71.3},{"p":"u","x":535,"y":71.5,"b":71.3},{"p":"u","x":534.5,"y":72.5,"b":71.3},{"p":"u","x":534,"y":74.5,"b":71.3},{"p":"u","x":533.5,"y":78,"b":71.3},{"p":"u","x":533,"y":81,"b":71.3},{"p":"u","x":532.75,"y":81.3,"b":71.3},{"p":"u","x":532.5,"y":80,"b":71.3},{"p":"u","x":532,"y":76,"b":71.3},{"p":"u","x":531.5,"y":73,"b":71.3},{"p":"u","x":531,"y":71.8,"b":71.3},{"p":"u","x":530.5,"y":71.3,"b":71.3},
{"p":"l","x":536,"y":3.5,"b":3.5},{"p":"l","x":535,"y":4.5,"b":3.5},{"p":"l","x":534.5,"y":6,"b":3.5},{"p":"l","x":534,"y":8.5,"b":3.5},{"p":"l","x":533.5,"y":12,"b":3.5},{"p":"l","x":533.13,"y":13,"b":3.5},{"p":"l","x":532.75,"y":12.5,"b":3.5},{"p":"l","x":532.5,"y":10.5,"b":3.5},{"p":"l","x":532,"y":7,"b":3.5},{"p":"l","x":531.5,"y":5,"b":3.5},{"p":"l","x":531,"y":4,"b":3.5},{"p":"l","x":530,"y":3.5,"b":3.5}
     ]},
     "mark": {"type": "area", "opacity": 0.95, "color": {"gradient": "linear", "x1": 0, "y1": 0, "x2": 0, "y2": 1, "stops": [{"offset": 0, "color": "#26479a"}, {"offset": 1, "color": "#58b0c8"}]}},
     "encoding": {"x": {"field": "x", "type": "quantitative"}, "y": {"field": "y", "type": "quantitative"}, "y2": {"field": "b"}, "detail": {"field": "p"}}},
    {"data": {"values": [{"y": 71.3}, {"y": 3.5}]},
     "mark": {"type": "rule", "color": "#c9be3a", "strokeWidth": 1.4},
     "encoding": {"y": {"field": "y", "type": "quantitative"}}},
    {"data": {"values": [
{"p":"u","x":538,"y":72.3},{"p":"u","x":537,"y":72.3},{"p":"u","x":536,"y":73},{"p":"u","x":535,"y":74.7},{"p":"u","x":534.5,"y":76.3},{"p":"u","x":534,"y":79},{"p":"u","x":533.5,"y":83},{"p":"u","x":533,"y":89.7},{"p":"u","x":532.75,"y":96.3},{"p":"u","x":532.5,"y":103.7},{"p":"u","x":532.25,"y":111.3},{"p":"u","x":532,"y":117},{"p":"u","x":531.75,"y":121},{"p":"u","x":531.5,"y":122},{"p":"u","x":531.25,"y":121},{"p":"u","x":531,"y":118},{"p":"u","x":530.5,"y":110.3},{"p":"u","x":530,"y":99.7},{"p":"u","x":529.5,"y":89.7},{"p":"u","x":529,"y":82},{"p":"u","x":528.5,"y":77},{"p":"u","x":528,"y":74.7},{"p":"u","x":527,"y":73},{"p":"u","x":526,"y":72.3},
{"p":"l","x":538,"y":3.7},{"p":"l","x":537,"y":4},{"p":"l","x":536,"y":4.3},{"p":"l","x":535,"y":5.3},{"p":"l","x":534.5,"y":7},{"p":"l","x":534,"y":9.7},{"p":"l","x":533.5,"y":14.7},{"p":"l","x":533.25,"y":19.7},{"p":"l","x":533,"y":26.3},{"p":"l","x":532.75,"y":36.3},{"p":"l","x":532.5,"y":46.3},{"p":"l","x":532.25,"y":53},{"p":"l","x":532,"y":52},{"p":"l","x":531.75,"y":44.7},{"p":"l","x":531.5,"y":33},{"p":"l","x":531.25,"y":23},{"p":"l","x":531,"y":14.7},{"p":"l","x":530.5,"y":8},{"p":"l","x":530,"y":5.7},{"p":"l","x":529,"y":4.3},{"p":"l","x":528,"y":4},{"p":"l","x":526,"y":3.7}
     ]},
     "layer": [
       {"mark": {"type": "line", "color": "#2c7a67", "strokeWidth": 3.2}, "encoding": {"x": {"field": "x", "type": "quantitative"}, "y": {"field": "y", "type": "quantitative"}, "detail": {"field": "p"}}},
       {"mark": {"type": "line", "color": "#ffffff", "strokeWidth": 1.1}, "encoding": {"x": {"field": "x", "type": "quantitative"}, "y": {"field": "y", "type": "quantitative"}, "detail": {"field": "p"}}}
     ]},
    {"data": {"values": [{}]}, "mark": {"type": "rule", "color": "#111", "strokeWidth": 1}, "encoding": {"y": {"datum": 67}}},
    {"data": {"values": [
       {"x":530.93,"y":126.3,"x2":531.64,"y2":118},{"x":533.79,"y":93,"x2":532.95,"y2":81.3},{"x":531.17,"y":54.7,"x2":532.0,"y2":46.3},{"x":533.55,"y":21.3,"x2":532.83,"y2":11.3}]},
     "mark": {"type": "rule", "color": "#111", "strokeWidth": 0.8},
     "encoding": {"x": {"field": "x", "type": "quantitative"}, "x2": {"field": "x2"}, "y": {"field": "y", "type": "quantitative"}, "y2": {"field": "y2"}}},
    {"data": {"values": [
       {"label":"O 1s (SSCNT)","x":537.8,"y":133.7},{"label":"C-O (531.58 eV)","x":530.9,"y":128},{"label":"(XSBR/SSCNT-5)","x":537.8,"y":60.7},{"label":"C-O (532.24 eV)","x":531.16,"y":57}]},
     "mark": {"type": "text", "fontSize": 7.3, "fontWeight": "bold", "align": "left", "color": "#111"},
     "encoding": {"x": {"field": "x", "type": "quantitative"}, "y": {"field": "y", "type": "quantitative"}, "text": {"field": "label"}}},
    {"data": {"values": [
       {"label":"O-C=O","x":535.1,"y":108},{"label":"(532.84 eV)","x":535.1,"y":99.7},{"label":"O-C=O","x":534.86,"y":35.3},{"label":"(533.13 eV)","x":534.86,"y":26.3}]},
     "mark": {"type": "text", "fontSize": 7.3, "fontWeight": "bold", "align": "center", "color": "#111"},
     "encoding": {"x": {"field": "x", "type": "quantitative"}, "y": {"field": "y", "type": "quantitative"}, "text": {"field": "label"}}},
    {"data": {"values": [{}]},
     "mark": {"type": "rect", "filled": false, "color": "#3aa29a", "strokeWidth": 1.5},
     "encoding": {"x": {"datum": 538.795}, "x2": {"datum": 525.494}, "y": {"datum": 144}, "y2": {"datum": -32.2}}},
    {"data": {"values": [{"label": "c", "x": 538.39, "y": 132.2}]},
     "mark": {"type": "text", "font": "Liberation Serif", "fontSize": 16, "fontWeight": "bold", "baseline": "alphabetic", "color": "#000"},
     "encoding": {"x": {"field": "x", "type": "quantitative"}, "y": {"field": "y", "type": "quantitative"}, "text": {"field": "label"}}}
  ]
}
]},
{"bounds": "flush", "spacing": 50, "resolve": {"scale": {"color": "independent"}, "legend": {"color": "independent"}}, "hconcat": [
{
  "width": 175, "height": 141,
  "view": {"stroke": null},
  "encoding": {"x": {"field": "cnt", "type": "nominal", "sort": ["XSBR", "1", "3", "5", "7"], "scale": {"paddingInner": 0.17, "paddingOuter": 0.31}, "axis": {"labelAngle": 0, "title": "CNT content (wt%)", "titleX": 102, "labelPadding": 0, "titlePadding": 2}}},
  "layer": [
    {"data": {"values": [
       {"cnt":"XSBR","series":"Swelling ratio","value":5.72,"lo":5.57,"hi":5.87},{"cnt":"1","series":"Swelling ratio","value":3.71,"lo":3.69,"hi":3.73},{"cnt":"3","series":"Swelling ratio","value":3.07,"lo":2.92,"hi":3.22},{"cnt":"5","series":"Swelling ratio","value":2.85,"lo":2.81,"hi":2.89},{"cnt":"7","series":"Swelling ratio","value":2.49,"lo":2.32,"hi":2.66}]},
     "layer": [
       {"mark": {"type": "bar", "stroke": "#2b2b2b", "strokeWidth": 0.6},
        "encoding": {"xOffset": {"field": "series", "type": "nominal", "scale": {"domain": ["Swelling ratio", "Ve"]}},
          "y": {"field": "value", "type": "quantitative", "scale": {"domain": [0, 7.5], "nice": false}, "axis": {"title": "Swelling ratio (%)", "values": [0, 2, 4, 6], "labelPadding": 2, "titlePadding": 1}},
          "color": {"field": "series", "type": "nominal", "scale": {"domain": ["Swelling ratio", "Ve"], "range": ["#72be45", "#a1d9e3"]},
            "legend": {"title": null, "orient": "top-left", "offset": 5, "padding": 0, "symbolType": "M-2,-0.8H2V0.8H-2Z", "symbolSize": 100, "symbolStrokeColor": "#222", "symbolStrokeWidth": 0.7, "labelFontSize": 8, "labelFontWeight": "bold", "labelOffset": 8, "rowPadding": 1}}}},
       {"mark": {"type": "rule", "color": "#111", "strokeWidth": 0.8}, "encoding": {"xOffset": {"field": "series", "type": "nominal", "scale": {"domain": ["Swelling ratio", "Ve"]}}, "y": {"field": "lo", "type": "quantitative"}, "y2": {"field": "hi"}}},
       {"mark": {"type": "tick", "orient": "horizontal", "size": 5, "thickness": 0.8, "color": "#111"}, "encoding": {"xOffset": {"field": "series", "type": "nominal", "scale": {"domain": ["Swelling ratio", "Ve"]}}, "y": {"field": "lo", "type": "quantitative"}}},
       {"mark": {"type": "tick", "orient": "horizontal", "size": 5, "thickness": 0.8, "color": "#111"}, "encoding": {"xOffset": {"field": "series", "type": "nominal", "scale": {"domain": ["Swelling ratio", "Ve"]}}, "y": {"field": "hi", "type": "quantitative"}}},
       {"data": {"values": [{}]}, "mark": {"type": "rule", "color": "#333", "strokeWidth": 0.8}, "encoding": {"x": {"datum": "1", "bandPosition": 0.27}, "x2": {"datum": "7", "bandPosition": 1.4}, "y": {"datum": -0.585}}},
       {"data": {"values": [{"label": "e", "cnt": "XSBR", "value": 6.86}]}, "mark": {"type": "text", "font": "Liberation Serif", "fontSize": 16, "fontWeight": "bold", "baseline": "alphabetic", "color": "#000", "dx": -36}, "encoding": {"y": {"field": "value", "type": "quantitative"}, "text": {"field": "label"}}}
     ]},
    {"data": {"values": [
       {"cnt":"XSBR","series":"Ve","value":0.14,"lo":0.12,"hi":0.16},{"cnt":"1","series":"Ve","value":0.88,"lo":0.76,"hi":1.0},{"cnt":"3","series":"Ve","value":2.0,"lo":1.87,"hi":2.13},{"cnt":"5","series":"Ve","value":3.23,"lo":2.95,"hi":3.51},{"cnt":"7","series":"Ve","value":4.9,"lo":4.58,"hi":5.22}]},
     "layer": [
       {"mark": {"type": "bar", "stroke": "#2b2b2b", "strokeWidth": 0.6},
        "encoding": {"xOffset": {"field": "series", "type": "nominal", "scale": {"domain": ["Swelling ratio", "Ve"]}},
          "y": {"field": "value", "type": "quantitative", "scale": {"domain": [0, 6], "nice": false}, "axis": {"orient": "right", "title": "Ve (10⁻⁵ mol·cm⁻³)", "titleAngle": 270, "titleBaseline": "top", "values": [0, 2, 4, 6], "labelPadding": 2, "titlePadding": 2}},
          "color": {"field": "series", "type": "nominal", "scale": {"domain": ["Swelling ratio", "Ve"], "range": ["#72be45", "#a1d9e3"]}}}},
       {"mark": {"type": "rule", "color": "#111", "strokeWidth": 0.8}, "encoding": {"xOffset": {"field": "series", "type": "nominal", "scale": {"domain": ["Swelling ratio", "Ve"]}}, "y": {"field": "lo", "type": "quantitative"}, "y2": {"field": "hi"}}},
       {"mark": {"type": "tick", "orient": "horizontal", "size": 5, "thickness": 0.8, "color": "#111"}, "encoding": {"xOffset": {"field": "series", "type": "nominal", "scale": {"domain": ["Swelling ratio", "Ve"]}}, "y": {"field": "lo", "type": "quantitative"}}},
       {"mark": {"type": "tick", "orient": "horizontal", "size": 5, "thickness": 0.8, "color": "#111"}, "encoding": {"xOffset": {"field": "series", "type": "nominal", "scale": {"domain": ["Swelling ratio", "Ve"]}}, "y": {"field": "hi", "type": "quantitative"}}}
     ]}
  ],
  "resolve": {"scale": {"y": "independent"}}
},
{
  "width": 180, "height": 142,
  "view": {"stroke": null},
  "encoding": {"x": {"field": "pos", "type": "quantitative", "scale": {"domain": [-0.57, 4.55], "nice": false, "zero": false}, "axis": {"values": [0, 1, 2, 3, 4], "labelExpr": "['XSBR','1','3','5','7'][datum.value]", "title": "CNT content (wt%)", "titleX": 113, "labelPadding": 1, "titlePadding": 3}}},
  "layer": [
    {"data": {"values": [
      {"cnt":"XSBR","pos":0,"g":-0.07,"gl":-0.1,"gh":-0.04},
      {"cnt":"1","pos":1,"g":-0.8,"gl":-0.85,"gh":-0.75},
      {"cnt":"3","pos":2,"g":-2.03,"gl":-2.25,"gh":-1.81},
      {"cnt":"5","pos":3,"g":-3.49,"gl":-3.84,"gh":-3.14},
      {"cnt":"7","pos":4,"g":-5.59,"gl":-6.01,"gh":-5.17}]},
     "layer": [
      {"mark": {"type": "line", "color": "#111", "strokeWidth": 1.2}, "encoding": {"y": {"field": "g", "type": "quantitative", "scale": {"domain": [-6.5, 0], "nice": false, "zero": false}, "axis": {"title": "ΔG (J·mol⁻¹)", "values": [0, -1, -2, -3, -4, -5, -6], "labelExpr": "datum.value == 0 ? '0' : '-' + abs(datum.value)", "labelPadding": 2, "titlePadding": 1}}}},
      {"mark": {"type": "rule", "color": "#111", "strokeWidth": 0.9}, "encoding": {"y": {"field": "gl", "type": "quantitative"}, "y2": {"field": "gh"}}},
      {"mark": {"type": "tick", "orient": "horizontal", "size": 5, "thickness": 0.9, "color": "#111"}, "encoding": {"y": {"field": "gl", "type": "quantitative"}}},
      {"mark": {"type": "tick", "orient": "horizontal", "size": 5, "thickness": 0.9, "color": "#111"}, "encoding": {"y": {"field": "gh", "type": "quantitative"}}},
      {"mark": {"type": "point", "shape": "square", "filled": true, "size": 28, "color": "#111", "opacity": 1}, "encoding": {"y": {"field": "g", "type": "quantitative"}}},
      {"data": {"values": [{"pos": -0.34, "pos2": 0.28, "g": -0.5, "c": "k"}, {"pos": 0.85, "pos2": 4.55, "g": -7.03, "c": "u"}]}, "mark": {"type": "rule", "color": "#111", "strokeWidth": 1.1}, "encoding": {"x2": {"field": "pos2"}, "y": {"field": "g", "type": "quantitative"}}},
      {"data": {"values": [{"pos": -0.36, "g": -0.5}]}, "mark": {"type": "point", "shape": "triangle-left", "filled": true, "size": 24, "color": "#111", "opacity": 1}, "encoding": {"y": {"field": "g", "type": "quantitative"}}},
      {"data": {"values": [{"label": "f", "pos": -1.04, "g": -0.41}]}, "mark": {"type": "text", "font": "Liberation Serif", "fontSize": 16, "fontWeight": "bold", "baseline": "alphabetic", "color": "#000"}, "encoding": {"y": {"field": "g", "type": "quantitative"}, "text": {"field": "label"}}}
    ]},
    {"data": {"values": [
      {"cnt":"XSBR","pos":0,"s":0.38,"sl":0.28,"sh":0.48},
      {"cnt":"1","pos":1,"s":2.77,"sl":2.57,"sh":2.97},
      {"cnt":"3","pos":2,"s":6.84,"sl":6.34,"sh":7.34},
      {"cnt":"5","pos":3,"s":11.85,"sl":11.55,"sh":12.15},
      {"cnt":"7","pos":4,"s":18.78,"sl":17.83,"sh":19.73}]},
     "layer": [
      {"mark": {"type": "line", "color": "#d65656", "strokeWidth": 1.2}, "encoding": {"y": {"field": "s", "type": "quantitative", "scale": {"domain": [0, 20], "nice": false}, "axis": {"orient": "right", "title": "ΔS (10⁻³ J·mol⁻¹·K⁻¹)", "titleAngle": 270, "titleBaseline": "top", "values": [0, 5, 10, 15, 20], "labelPadding": 2, "titlePadding": 10}}}},
      {"mark": {"type": "rule", "color": "#d65656", "strokeWidth": 0.9}, "encoding": {"y": {"field": "sl", "type": "quantitative"}, "y2": {"field": "sh"}}},
      {"mark": {"type": "tick", "orient": "horizontal", "size": 5, "thickness": 0.9, "color": "#d65656"}, "encoding": {"y": {"field": "sl", "type": "quantitative"}}},
      {"mark": {"type": "tick", "orient": "horizontal", "size": 5, "thickness": 0.9, "color": "#d65656"}, "encoding": {"y": {"field": "sh", "type": "quantitative"}}},
      {"mark": {"type": "point", "shape": "circle", "filled": true, "size": 30, "color": "#e03c3c", "opacity": 1}, "encoding": {"y": {"field": "s", "type": "quantitative"}}},
      {"data": {"values": [{"pos": 3.79, "pos2": 4.39, "s": 16.5}]}, "mark": {"type": "rule", "color": "#d65656", "strokeWidth": 1.2}, "encoding": {"x2": {"field": "pos2"}, "y": {"field": "s", "type": "quantitative"}}},
      {"data": {"values": [{"pos": 4.41, "s": 16.5}]}, "mark": {"type": "point", "shape": "triangle-right", "filled": true, "size": 24, "color": "#d65656", "opacity": 1}, "encoding": {"y": {"field": "s", "type": "quantitative"}}}
    ]}
  ],
  "resolve": {"scale": {"y": "independent"}}
},
{
  "width": 162, "height": 140,
  "layer": [
    {"data": {"values": [{"x": 400.75}, {"x": 399.7}]},
     "mark": {"type": "rule", "color": "#d68fb0", "strokeDash": [1.5, 2], "strokeWidth": 1},
     "encoding": {"x": {"field": "x", "type": "quantitative", "scale": {"domain": [408.1, 395.7], "nice": false, "zero": false}, "axis": {"values": [408, 406, 404, 402, 400, 398, 396], "labelOverlap": false, "labelSeparation": -20, "title": "Binding energy (eV)", "labelFontSize": 7.5, "labelPadding": 2, "titlePadding": 3}}}},
    {"data": {"values": [
{"p":"u","x":402,"y":88.4,"b":88.4},{"p":"u","x":401.5,"y":89.2,"b":89.0},{"p":"u","x":401,"y":91.5,"b":89.5},{"p":"u","x":400.5,"y":96,"b":90.0},{"p":"u","x":400,"y":102.5,"b":90.6},{"p":"u","x":399.5,"y":108.5,"b":91.1},{"p":"u","x":399.03,"y":111.5,"b":91.6},{"p":"u","x":398.5,"y":109.5,"b":92.2},{"p":"u","x":398,"y":104,"b":92.7},{"p":"u","x":397.5,"y":98.5,"b":93.2},{"p":"u","x":397,"y":95.5,"b":93.8},{"p":"u","x":396.5,"y":94.6,"b":94.3},{"p":"u","x":396,"y":94.8,"b":94.8},
{"p":"l","x":401.5,"y":13.8,"b":13.8},{"p":"l","x":401,"y":14.5,"b":14.1},{"p":"l","x":400.75,"y":17,"b":14.2},{"p":"l","x":400.5,"y":22,"b":14.4},{"p":"l","x":400.25,"y":30,"b":14.5},{"p":"l","x":400,"y":39,"b":14.6},{"p":"l","x":399.75,"y":47,"b":14.8},{"p":"l","x":399.58,"y":50,"b":14.8},{"p":"l","x":399.25,"y":48,"b":15.0},{"p":"l","x":399,"y":42,"b":15.2},{"p":"l","x":398.75,"y":35,"b":15.3},{"p":"l","x":398.5,"y":28,"b":15.4},{"p":"l","x":398.25,"y":22,"b":15.6},{"p":"l","x":398,"y":18.5,"b":15.7},{"p":"l","x":397.75,"y":17,"b":15.8},{"p":"l","x":397.5,"y":16.3,"b":16.0},{"p":"l","x":397,"y":16.2,"b":16.2}
     ]},
     "mark": {"type": "area", "opacity": 0.9, "color": {"gradient": "linear", "x1": 0, "y1": 0, "x2": 0, "y2": 1, "stops": [{"offset": 0, "color": "#2e8b3a"}, {"offset": 1, "color": "#bfe3ad"}]}},
     "encoding": {"x": {"field": "x", "type": "quantitative"}, "y": {"field": "y", "type": "quantitative", "scale": {"domain": [0, 142], "nice": false, "zero": false}, "axis": {"labels": false, "ticks": false, "title": "Intensity (a.u.)", "titlePadding": 9}}, "y2": {"field": "b"}, "detail": {"field": "p"}}},
    {"data": {"values": [
{"p":"u","x":404.5,"y":85.8,"b":85.7},{"p":"u","x":404,"y":86.6,"b":86.3},{"p":"u","x":403.5,"y":87.8,"b":86.8},{"p":"u","x":403,"y":89.5,"b":87.4},{"p":"u","x":402.5,"y":91.9,"b":87.9},{"p":"u","x":402,"y":94.4,"b":88.4},{"p":"u","x":401.5,"y":98,"b":89.0},{"p":"u","x":401,"y":101.5,"b":89.5},{"p":"u","x":400.5,"y":103.8,"b":90.0},{"p":"u","x":400.18,"y":104.5,"b":90.4},{"p":"u","x":400,"y":104.2,"b":90.6},{"p":"u","x":399.5,"y":102.5,"b":91.1},{"p":"u","x":399,"y":99.3,"b":91.6},{"p":"u","x":398.5,"y":96,"b":92.2},{"p":"u","x":398,"y":94,"b":92.7},{"p":"u","x":397.5,"y":93.5,"b":93.2},{"p":"u","x":397,"y":93.8,"b":93.8},
{"p":"l","x":403.5,"y":12.8,"b":12.7},{"p":"l","x":403,"y":13.3,"b":13.0},{"p":"l","x":402.5,"y":14.5,"b":13.3},{"p":"l","x":402,"y":16.5,"b":13.5},{"p":"l","x":401.5,"y":19.5,"b":13.8},{"p":"l","x":401,"y":24.5,"b":14.1},{"p":"l","x":400.75,"y":28,"b":14.2},{"p":"l","x":400.45,"y":31,"b":14.4},{"p":"l","x":400.25,"y":31.5,"b":14.5},{"p":"l","x":400,"y":30,"b":14.6},{"p":"l","x":399.75,"y":26.5,"b":14.8},{"p":"l","x":399.5,"y":22,"b":14.9},{"p":"l","x":399,"y":17.5,"b":15.2},{"p":"l","x":398.5,"y":15.8,"b":15.4},{"p":"l","x":398,"y":15.7,"b":15.7}
     ]},
     "mark": {"type": "area", "opacity": 0.85, "color": {"gradient": "linear", "x1": 0, "y1": 0, "x2": 0, "y2": 1, "stops": [{"offset": 0, "color": "#e56cc9"}, {"offset": 1, "color": "#b36bbf"}]}},
     "encoding": {"x": {"field": "x", "type": "quantitative"}, "y": {"field": "y", "type": "quantitative"}, "y2": {"field": "b"}, "detail": {"field": "p"}}},
    {"data": {"values": [{"x": 408.1, "x2": 395.7, "y": 82, "y2": 95.3}, {"x": 408.1, "x2": 395.7, "y": 10.3, "y2": 17}]},
     "mark": {"type": "rule", "color": "#e8a13a", "strokeWidth": 1.3},
     "encoding": {"x": {"field": "x", "type": "quantitative"}, "x2": {"field": "x2"}, "y": {"field": "y", "type": "quantitative"}, "y2": {"field": "y2"}}},
    {"data": {"values": [
{"p":"u","x":408,"y":84.3},{"p":"u","x":407,"y":85},{"p":"u","x":406,"y":86.3},{"p":"u","x":405,"y":88},{"p":"u","x":404,"y":90.3},{"p":"u","x":403,"y":93},{"p":"u","x":402.5,"y":96.5},{"p":"u","x":402,"y":100},{"p":"u","x":401.5,"y":104.5},{"p":"u","x":401,"y":109.5},{"p":"u","x":400.5,"y":114.5},{"p":"u","x":400,"y":117.5},{"p":"u","x":399.5,"y":118.7},{"p":"u","x":399,"y":117.7},{"p":"u","x":398.5,"y":113.7},{"p":"u","x":398,"y":107},{"p":"u","x":397.5,"y":100.3},{"p":"u","x":397,"y":97},{"p":"u","x":396.5,"y":96},{"p":"u","x":396,"y":95.5},{"p":"u","x":395.7,"y":95.3},
{"p":"l","x":408,"y":13},{"p":"l","x":407,"y":14},{"p":"l","x":406,"y":15},{"p":"l","x":405,"y":16},{"p":"l","x":404,"y":17},{"p":"l","x":403,"y":18.5},{"p":"l","x":402,"y":22},{"p":"l","x":401.5,"y":26},{"p":"l","x":401,"y":30.3},{"p":"l","x":400.5,"y":38.7},{"p":"l","x":400,"y":47},{"p":"l","x":399.75,"y":51.5},{"p":"l","x":399.58,"y":53},{"p":"l","x":399.25,"y":51},{"p":"l","x":399,"y":45.3},{"p":"l","x":398.75,"y":39.5},{"p":"l","x":398.5,"y":33.7},{"p":"l","x":398.25,"y":28},{"p":"l","x":398,"y":23.7},{"p":"l","x":397.5,"y":20.3},{"p":"l","x":397,"y":19.5},{"p":"l","x":396,"y":19},{"p":"l","x":395.7,"y":19}
     ]},
     "mark": {"type": "line", "color": "#5ccfd0", "strokeWidth": 2.4},
     "encoding": {"x": {"field": "x", "type": "quantitative"}, "y": {"field": "y", "type": "quantitative"}, "detail": {"field": "p"}}},
    {"data": {"values": [
{"p":"u","x":408.0,"y":86},{"p":"u","x":407.75,"y":82},{"p":"u","x":407.5,"y":88},{"p":"u","x":407.25,"y":84},{"p":"u","x":407.0,"y":76},{"p":"u","x":406.75,"y":87},{"p":"u","x":406.5,"y":85},{"p":"u","x":406.25,"y":90},{"p":"u","x":406.0,"y":84},{"p":"u","x":405.75,"y":88},{"p":"u","x":405.5,"y":79},{"p":"u","x":405.25,"y":89},{"p":"u","x":405.0,"y":86},{"p":"u","x":404.75,"y":91},{"p":"u","x":404.5,"y":84},{"p":"u","x":404.25,"y":90},{"p":"u","x":404.0,"y":93},{"p":"u","x":403.75,"y":80},{"p":"u","x":403.5,"y":92},{"p":"u","x":403.25,"y":89},{"p":"u","x":403.0,"y":95},{"p":"u","x":402.75,"y":92},{"p":"u","x":402.5,"y":98},{"p":"u","x":402.25,"y":96},{"p":"u","x":402.0,"y":101},{"p":"u","x":401.75,"y":99},{"p":"u","x":401.5,"y":106},{"p":"u","x":401.25,"y":103},{"p":"u","x":401.0,"y":110},{"p":"u","x":400.75,"y":107},{"p":"u","x":400.5,"y":112},{"p":"u","x":400.25,"y":116},{"p":"u","x":400.0,"y":121},{"p":"u","x":399.75,"y":111},{"p":"u","x":399.5,"y":124},{"p":"u","x":399.25,"y":117},{"p":"u","x":399.0,"y":114},{"p":"u","x":398.75,"y":123},{"p":"u","x":398.5,"y":110},{"p":"u","x":398.25,"y":115},{"p":"u","x":398.0,"y":106},{"p":"u","x":397.75,"y":109},{"p":"u","x":397.5,"y":100},{"p":"u","x":397.25,"y":97},{"p":"u","x":397.0,"y":103},{"p":"u","x":396.75,"y":94},{"p":"u","x":396.5,"y":98},{"p":"u","x":396.25,"y":90},{"p":"u","x":396.0,"y":95},{"p":"u","x":395.75,"y":92},
{"p":"l","x":408.0,"y":13},{"p":"l","x":407.75,"y":3},{"p":"l","x":407.5,"y":14},{"p":"l","x":407.25,"y":10},{"p":"l","x":407.0,"y":16},{"p":"l","x":406.75,"y":12},{"p":"l","x":406.5,"y":15},{"p":"l","x":406.25,"y":13},{"p":"l","x":406.0,"y":17},{"p":"l","x":405.75,"y":14},{"p":"l","x":405.5,"y":12},{"p":"l","x":405.25,"y":16},{"p":"l","x":405.0,"y":8},{"p":"l","x":404.75,"y":15},{"p":"l","x":404.5,"y":18},{"p":"l","x":404.25,"y":14},{"p":"l","x":404.0,"y":17},{"p":"l","x":403.75,"y":15},{"p":"l","x":403.5,"y":19},{"p":"l","x":403.25,"y":16},{"p":"l","x":403.0,"y":20},{"p":"l","x":402.75,"y":17},{"p":"l","x":402.5,"y":19},{"p":"l","x":402.25,"y":21},{"p":"l","x":402.0,"y":18},{"p":"l","x":401.75,"y":24},{"p":"l","x":401.5,"y":22},{"p":"l","x":401.25,"y":27},{"p":"l","x":401.0,"y":25},{"p":"l","x":400.75,"y":33},{"p":"l","x":400.5,"y":36},{"p":"l","x":400.25,"y":43},{"p":"l","x":400.0,"y":48},{"p":"l","x":399.75,"y":55},{"p":"l","x":399.5,"y":50},{"p":"l","x":399.25,"y":56},{"p":"l","x":399.0,"y":46},{"p":"l","x":398.75,"y":40},{"p":"l","x":398.5,"y":31},{"p":"l","x":398.25,"y":26},{"p":"l","x":398.0,"y":22},{"p":"l","x":397.75,"y":18},{"p":"l","x":397.5,"y":21},{"p":"l","x":397.25,"y":19},{"p":"l","x":397.0,"y":22},{"p":"l","x":396.75,"y":17},{"p":"l","x":396.5,"y":21},{"p":"l","x":396.25,"y":18},{"p":"l","x":396.0,"y":23},{"p":"l","x":395.75,"y":20}
     ]},
     "mark": {"type": "line", "color": "#4a4a4a", "strokeWidth": 1.2},
     "encoding": {"x": {"field": "x", "type": "quantitative"}, "y": {"field": "y", "type": "quantitative"}, "detail": {"field": "p"}}},
    {"data": {"values": [{}]}, "mark": {"type": "rule", "color": "#111", "strokeWidth": 1}, "encoding": {"y": {"datum": 72}}},
    {"data": {"values": [
       {"x":398.2,"y":122,"x2":398.9,"y2":112},{"x":401.6,"y":111,"x2":400.4,"y2":103},{"x":398.3,"y":54,"x2":399.3,"y2":47},{"x":401.6,"y":36.5,"x2":400.5,"y2":30}]},
     "mark": {"type": "rule", "color": "#111", "strokeWidth": 0.8},
     "encoding": {"x": {"field": "x", "type": "quantitative"}, "x2": {"field": "x2"}, "y": {"field": "y", "type": "quantitative"}, "y2": {"field": "y2"}}},
    {"data": {"values": [{"label":"N 1s (SSCNT)","x":407.8,"y":135.3},{"label":"(XSBR/SSCNT-5)","x":407.9,"y":65.3}]},
     "mark": {"type": "text", "fontSize": 7.3, "fontWeight": "bold", "align": "left", "color": "#111"},
     "encoding": {"x": {"field": "x", "type": "quantitative"}, "y": {"field": "y", "type": "quantitative"}, "text": {"field": "label"}}},
    {"data": {"values": [
       {"label":"C-NH₂","x":397.8,"y":134},{"label":"(399.03 eV)","x":397.7,"y":126.3},{"label":"O=C-N-C (400.18 eV)","x":404.1,"y":113},{"label":"C-NH₂","x":398.1,"y":66.3},{"label":"(399.58 eV)","x":397.7,"y":57.7},{"label":"O=C-N-C (400.45 eV)","x":404.3,"y":38.7}]},
     "mark": {"type": "text", "fontSize": 7.3, "fontWeight": "bold", "align": "center", "color": "#111"},
     "encoding": {"x": {"field": "x", "type": "quantitative"}, "y": {"field": "y", "type": "quantitative"}, "text": {"field": "label"}}},
    {"data": {"values": [{}]},
     "mark": {"type": "rect", "filled": false, "color": "#3aa29a", "strokeWidth": 1.5},
     "encoding": {"x": {"datum": 409.55}, "x2": {"datum": 395.5}, "y": {"datum": 155.2}, "y2": {"datum": -26.4}}},
    {"data": {"values": [{"label": "d", "x": 409.17, "y": 126.8}]},
     "mark": {"type": "text", "font": "Liberation Serif", "fontSize": 16, "fontWeight": "bold", "baseline": "alphabetic", "color": "#000"},
     "encoding": {"x": {"field": "x", "type": "quantitative"}, "y": {"field": "y", "type": "quantitative"}, "text": {"field": "label"}}}
  ]
}
]}
]
}
